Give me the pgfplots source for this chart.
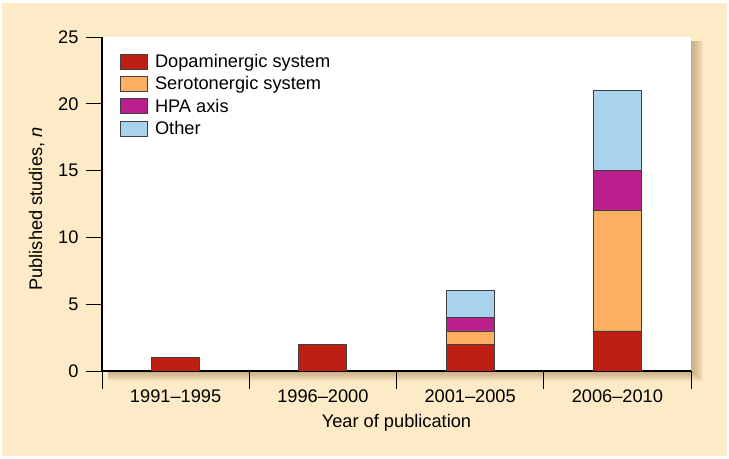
\documentclass[border=0pt]{standalone}
\usepackage{pgfplots}
\pgfplotsset{compat=1.18}
\usepackage{fontspec}
\setmainfont{Liberation Sans}
\definecolor{bg}{HTML}{FDEAC6}
\definecolor{shad}{HTML}{B89868}
\definecolor{dopa}{HTML}{BF1E12}
\definecolor{sero}{HTML}{FDAF62}
\definecolor{hpa}{HTML}{BB1F8E}
\definecolor{other}{HTML}{A9D2EE}
\newcommand{\f}{\fontsize{18.3}{21}\selectfont}
\begin{document}
\begin{tikzpicture}[x=1bp,y=1bp]
\useasboundingbox (0,0) rectangle (729,459);
\fill[bg] (2,3) rectangle (727,456);
\foreach \i in {1,...,12} {
  \fill[shad, opacity=0.09] (108,88-\i*0.8) rectangle (691+\i,418);
}
\begin{axis}[
  at={(102bp,88bp)}, anchor=south west,
  scale only axis, width=589bp, height=334bp,
  ymin=0, ymax=25, xmin=-0.5, xmax=3.5,
  ybar stacked, bar width=48bp,
  axis background/.style={fill=white},
  axis x line*=bottom, axis y line*=left,
  axis line style={line width=2.4bp, black, -},
  ytick={0,5,...,25},
  xtick={0,1,2,3},
  xticklabels={1991--1995,1996--2000,2001--2005,2006--2010},
  minor xtick={-0.5,0.5,1.5,2.5,3.5},
  tick align=outside,
  major tick length=16bp, minor tick length=18bp,
  major x tick style={draw=none},
  minor x tick style={black, line width=0.8bp},
  major y tick style={black, line width=0.8bp},
  /pgf/number format/assume math mode=true,
  tick label style={font=\f},
  yticklabel style={xshift=-4bp},
  xticklabel style={yshift=1bp},
  xlabel={Year of publication},
  ylabel={Published studies, \textit{n}},
  label style={font=\f},
  xlabel style={yshift=-5bp},
  ylabel style={yshift=7bp, xshift=-5bp},
  every axis plot/.append style={draw=black!75, line width=0.8bp},
  legend image code/.code={\draw[#1, line width=0.8bp, draw=black!75] (0bp,-7.5bp) rectangle (27bp,7.5bp); \path (32bp,0bp);},
  legend style={at={(axis description cs:0.0306,0.955)}, anchor=north west, draw=none, fill=none, font=\f, row sep=3.7bp, inner sep=0pt},
  legend cell align=left,
]
\addplot[fill=dopa] coordinates {(0,1) (1,2) (2,2) (3,3)};
\addplot[fill=sero] coordinates {(0,0) (1,0) (2,1) (3,9)};
\addplot[fill=hpa] coordinates {(0,0) (1,0) (2,1) (3,3)};
\addplot[fill=other] coordinates {(0,0) (1,0) (2,2) (3,6)};
\legend{Dopaminergic system, Serotonergic system, HPA axis, Other}
\end{axis}
\end{tikzpicture}
\end{document}
